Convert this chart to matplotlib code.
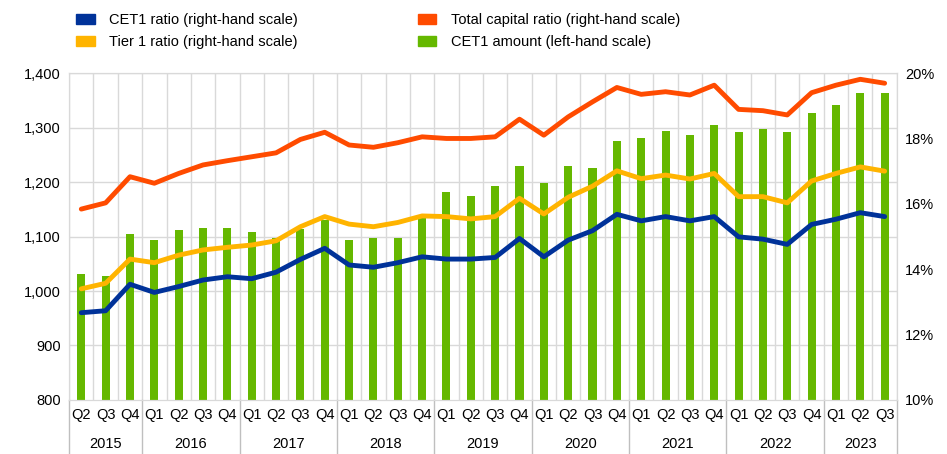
import numpy as np
import matplotlib.pyplot as plt
from matplotlib.patches import Patch
from matplotlib.transforms import blended_transform_factory

plt.rcParams['font.family'] = ['Liberation Sans', 'DejaVu Sans']

quarters = ['Q2', 'Q3', 'Q4'] + ['Q1', 'Q2', 'Q3', 'Q4'] * 7 + ['Q1', 'Q2', 'Q3']
years = ['2015', '2016', '2017', '2018', '2019', '2020', '2021', '2022', '2023']
year_len = [3, 4, 4, 4, 4, 4, 4, 4, 3]

# CET1 amount (left-hand scale, EUR bn)
cet1_amount = [1031, 1027, 1105, 1094, 1112, 1116, 1116, 1108, 1097, 1114, 1130,
               1094, 1097, 1097, 1140, 1181, 1174, 1192, 1229, 1199, 1229, 1225,
               1276, 1280, 1294, 1287, 1305, 1291, 1298, 1291, 1327, 1342, 1364, 1364]
# ratios (right-hand scale, %)
cet1_ratio = [12.67, 12.73, 13.54, 13.29, 13.47, 13.67, 13.77, 13.71, 13.91, 14.30, 14.64,
              14.13, 14.06, 14.20, 14.38, 14.31, 14.31, 14.36, 14.94, 14.38, 14.89, 15.18,
              15.68, 15.48, 15.61, 15.48, 15.61, 14.99, 14.92, 14.76, 15.37, 15.53, 15.73, 15.61]
tier1_ratio = [13.40, 13.57, 14.31, 14.20, 14.43, 14.59, 14.67, 14.74, 14.87, 15.30, 15.61,
               15.38, 15.30, 15.43, 15.63, 15.61, 15.54, 15.61, 16.17, 15.69, 16.20, 16.54,
               17.01, 16.77, 16.88, 16.76, 16.93, 16.22, 16.22, 16.03, 16.70, 16.93, 17.13, 17.00]
total_ratio = [15.84, 16.03, 16.83, 16.63, 16.93, 17.19, 17.32, 17.44, 17.56, 17.97, 18.19,
               17.80, 17.73, 17.87, 18.05, 18.00, 18.00, 18.05, 18.59, 18.10, 18.66, 19.12,
               19.56, 19.35, 19.43, 19.33, 19.63, 18.89, 18.85, 18.72, 19.40, 19.63, 19.81, 19.69]

blue = '#003299'
red = '#ff4b00'
yellow = '#ffb400'
green = '#65b800'
grid = '#d9d9d9'

n = len(quarters)
x = np.arange(n)

fig = plt.figure(figsize=(9.47, 4.54), dpi=100)
ax = fig.add_axes([0.073, 0.119, 0.874, 0.72])
ax2 = ax.twinx()

ax.bar(x, cet1_amount, width=0.33, color=green, zorder=2)
ax.set_ylim(800, 1400)
ax.set_yticks(np.arange(800, 1401, 100))
ax.set_yticklabels([f'{v:,}' for v in range(800, 1401, 100)])
ax.set_xlim(-0.5, n - 0.5)

# grid
for v in range(900, 1401, 100):
    ax.axhline(v, color=grid, lw=1, zorder=0)
for b in np.arange(-0.5, n, 1.0):
    ax.axvline(b, color=grid, lw=1, zorder=0)

ax2.plot(x, total_ratio, color=red, lw=3.5, solid_capstyle='round', solid_joinstyle='round')
ax2.plot(x, tier1_ratio, color=yellow, lw=3.5, solid_capstyle='round', solid_joinstyle='round')
ax2.plot(x, cet1_ratio, color=blue, lw=3.5, solid_capstyle='round', solid_joinstyle='round')
ax2.set_ylim(10, 20)
ax2.set_yticks(np.arange(10, 21, 2))
ax2.set_yticklabels([f'{v}%' for v in range(10, 21, 2)])

for a in (ax, ax2):
    for s in a.spines.values():
        s.set_color(grid)
    a.tick_params(length=0, labelsize=10.5, colors='#000000')
ax.tick_params(axis='y', pad=6)
ax2.tick_params(axis='y', pad=6)

ax.set_xticks(x)
ax.set_xticklabels(quarters)
ax.tick_params(axis='x', pad=6)

# year labels and separators
trans = blended_transform_factory(ax.transData, ax.transAxes)
start = 0
for yr, ln in zip(years, year_len):
    ax.text(start + (ln - 1) / 2, -0.135, yr, transform=trans, ha='center', va='center', fontsize=10.5)
    start += ln
seps = np.cumsum([0] + year_len) - 0.5
for s in seps:
    ax.plot([s, s], [0, -0.19], transform=trans, color='#bfbfbf', lw=1, clip_on=False)

handles = [Patch(color=blue), Patch(color=yellow), Patch(color=red), Patch(color=green)]
labels = ['CET1 ratio (right-hand scale)', 'Tier 1 ratio (right-hand scale)',
          'Total capital ratio (right-hand scale)', 'CET1 amount (left-hand scale)']
fig.legend(handles, labels, ncol=2, loc='upper left', bbox_to_anchor=(0.066, 1.0),
           frameon=False, fontsize=10.5, handlelength=1.3, handleheight=0.6,
           columnspacing=8.2, labelspacing=0.55, handletextpad=1.0)

fig.savefig('out.png', dpi=100)
